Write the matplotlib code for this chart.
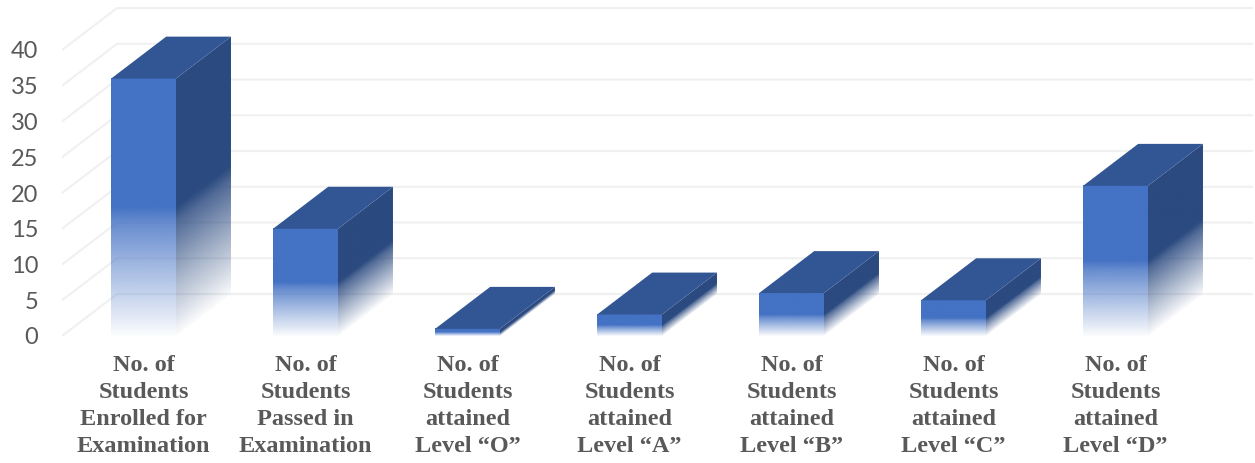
import numpy as np
import matplotlib
matplotlib.use("Agg")
import matplotlib.pyplot as plt
from matplotlib.patches import Polygon

categories = [
    "No. of\nStudents\nEnrolled for\nExamination",
    "No. of\nStudents\nPassed in\nExamination",
    "No. of\nStudents\nattained\nLevel “O”",
    "No. of\nStudents\nattained\nLevel “A”",
    "No. of\nStudents\nattained\nLevel “B”",
    "No. of\nStudents\nattained\nLevel “C”",
    "No. of\nStudents\nattained\nLevel “D”",
]
values = [36, 15, 1, 3, 6, 5, 21]
yticks = [0, 5, 10, 15, 20, 25, 30, 35, 40]

# look of the 3d box, in axis units
bar_w = 0.40
depth_x = 0.34
depth_y = 5.87

front_col = "#4472C4"
side_col = "#2B4A80"
top_col = "#325694"
grid_col = "#F0F0F0"
text_col = "#595959"


def fade(t):
    # t = 0 at the foot of the bar, 1 at its top
    return np.interp(t, [0, 0.07, 0.27, 0.44, 0.5, 1], [0.02, 0.15, 0.5, 0.82, 1, 1])


def rgba(col, alpha):
    img = np.zeros(alpha.shape + (4,))
    img[..., :3] = matplotlib.colors.to_rgb(col)
    img[..., 3] = alpha
    return img


fig = plt.figure(figsize=(12.55, 4.63), dpi=100)
ax = fig.add_axes([62 / 1255, 127 / 463, 1191 / 1255, 336 / 463])
xlim = ((62 - 143.5) / 162, (1253 - 143.5) / 162)
ylim = (0, 336 / 7.15)

# floor/wall lines
for t in yticks:
    ax.plot([xlim[0], xlim[0] + depth_x, xlim[1]], [t, t + depth_y, t + depth_y],
            color=grid_col, lw=1.5, zorder=1, solid_joinstyle="miter")

for i, v in enumerate(values):
    x0 = i - bar_w / 2
    x1 = i + bar_w / 2

    # front face
    a = fade(np.linspace(1, 0, 300))[:, None]
    ax.imshow(rgba(front_col, a), extent=[x0, x1, 0, v], aspect="auto",
              interpolation="bilinear", zorder=3)

    # side face, the fade follows the slant of the box
    xs = np.linspace(x1, x1 + depth_x, 120)
    ys = np.linspace(v + depth_y, 0, 400)
    xx, yy = np.meshgrid(xs, ys)
    t = (yy - (xx - x1) * depth_y / depth_x) / v
    im = ax.imshow(rgba(side_col, fade(np.clip(t, 0, 1))),
                   extent=[x1, x1 + depth_x, 0, v + depth_y], aspect="auto",
                   interpolation="bilinear", zorder=3)
    clip = Polygon([(x1, 0), (x1 + depth_x, depth_y), (x1 + depth_x, v + depth_y), (x1, v)],
                   transform=ax.transData)
    im.set_clip_path(clip)

    # top face
    ax.add_patch(Polygon([(x0, v), (x1, v), (x1 + depth_x, v + depth_y), (x0 + depth_x, v + depth_y)],
                         facecolor=top_col, edgecolor="none", zorder=4))

ax.set_xlim(xlim)
ax.set_ylim(ylim)
ax.set_xticks(range(len(categories)))
ax.set_xticklabels(categories, family="Liberation Serif", fontweight="bold",
                   fontsize=17.5, color=text_col, linespacing=1.375)
ax.set_yticks(yticks)
ax.set_yticklabels([str(t) for t in yticks], family="Lato", fontsize=17, color=text_col)
ax.tick_params(axis="x", length=0, pad=13.5)
ax.tick_params(axis="y", length=0, pad=17)
for s in ax.spines.values():
    s.set_visible(False)

fig.savefig("out.png", dpi=100)
